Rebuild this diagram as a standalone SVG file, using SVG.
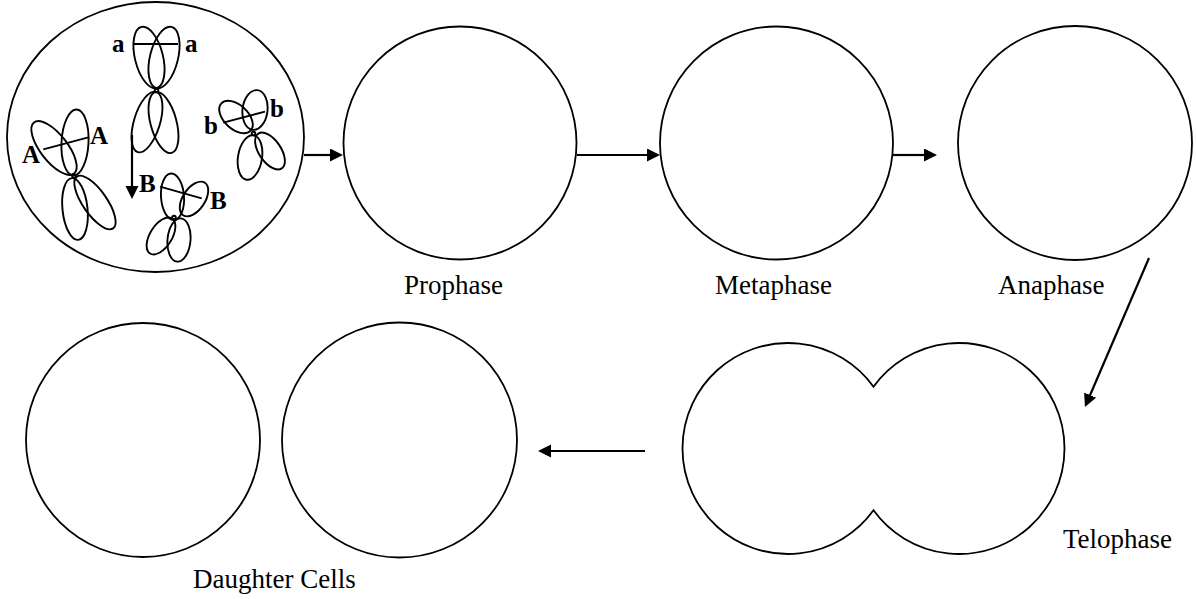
<svg xmlns="http://www.w3.org/2000/svg" width="1196" height="599" viewBox="0 0 1196 599">
  <style>
    .cell { fill: #ffffff; stroke: #000000; stroke-width: 1.8; }
    .chr { fill: none; stroke: #000000; stroke-width: 1.9; }
    .lbl { font-family: "Liberation Serif", "Times New Roman", serif; font-size: 27px; fill: #000000; }
    .gene { font-family: "Liberation Serif", "Times New Roman", serif; font-size: 25px; font-weight: bold; fill: #000000; }
    .conn { fill: none; stroke: #000000; stroke-width: 2.2; }
  </style>
  <defs>
    <marker id="arrow" markerUnits="userSpaceOnUse" markerWidth="14" markerHeight="14" viewBox="0 0 14 14" refX="1" refY="6.5" orient="auto">
      <path d="M0,0 L13,6.5 L0,13 Z" fill="#000000"/>
    </marker>
  </defs>
  <rect width="1196" height="599" fill="#ffffff"/>

  <g id="interphase-cell">
    <ellipse class="cell" cx="155.5" cy="137" rx="148.5" ry="135"/>
    <g id="chromosome-a">
      <ellipse class="chr" cx="149" cy="57.5" rx="14" ry="31.5" transform="rotate(-14 149 57.5)"/>
      <ellipse class="chr" cx="164" cy="57.5" rx="14" ry="31.5" transform="rotate(14 164 57.5)"/>
      <ellipse class="chr" cx="147" cy="122" rx="13" ry="31.5" transform="rotate(17 147 122)"/>
      <ellipse class="chr" cx="163.5" cy="122.5" rx="13" ry="31.5" transform="rotate(-15 163.5 122.5)"/>
      <circle class="chr" cx="156.5" cy="90.5" r="1.8"/>
      <line class="chr" x1="133" y1="44" x2="178" y2="44"/>
      <text class="gene" x="112" y="52">a</text>
      <text class="gene" x="185" y="52">a</text>
    </g>
    <g id="chromosome-A">
      <ellipse class="chr" cx="54" cy="148" rx="13.5" ry="32.5" transform="rotate(-38 54 148)"/>
      <ellipse class="chr" cx="75" cy="142.5" rx="13.5" ry="33" transform="rotate(3 75 142.5)"/>
      <ellipse class="chr" cx="75" cy="209" rx="12.5" ry="31" transform="rotate(-6 75 209)"/>
      <ellipse class="chr" cx="95" cy="202.5" rx="12" ry="31.6" transform="rotate(-35 95 202.5)"/>
      <circle class="chr" cx="74" cy="176" r="1.8"/>
      <line class="chr" x1="43.3" y1="149.3" x2="88.3" y2="137.3"/>
      <text class="gene" x="22" y="163">A</text>
      <text class="gene" x="90" y="143.5">A</text>
    </g>
    <g id="chromosome-b">
      <ellipse class="chr" cx="236" cy="117" rx="20" ry="12" transform="rotate(43 236 117)"/>
      <ellipse class="chr" cx="255" cy="110" rx="12.5" ry="20" transform="rotate(7 255 110)"/>
      <ellipse class="chr" cx="250" cy="157.5" rx="12" ry="22.5" transform="rotate(9 250 157.5)"/>
      <ellipse class="chr" cx="270" cy="151" rx="11" ry="21" transform="rotate(-34 270 151)"/>
      <circle class="chr" cx="253.5" cy="133.5" r="1.8"/>
      <line class="chr" x1="223.3" y1="122.7" x2="265" y2="111.7"/>
      <text class="gene" x="204" y="133.5">b</text>
      <text class="gene" x="270" y="117">b</text>
    </g>
    <g id="chromosome-B">
      <ellipse class="chr" cx="172.5" cy="196.7" rx="11.5" ry="23.3" transform="rotate(-4 172.5 196.7)"/>
      <ellipse class="chr" cx="194" cy="199" rx="11" ry="19.5" transform="rotate(34 194 199)"/>
      <ellipse class="chr" cx="161" cy="236" rx="11" ry="20.6" transform="rotate(32 161 236)"/>
      <ellipse class="chr" cx="179" cy="240" rx="11.5" ry="21.7" transform="rotate(5 179 240)"/>
      <circle class="chr" cx="174" cy="217.5" r="1.8"/>
      <line class="chr" x1="160" y1="186.7" x2="201.7" y2="198.3"/>
      <text class="gene" x="139" y="192">B</text>
      <text class="gene" x="210" y="208.5">B</text>
    </g>
    <line class="conn" x1="132" y1="135" x2="132" y2="187" marker-end="url(#arrow)"/>
  </g>

  <g id="prophase">
    <circle class="cell" cx="460" cy="143" r="116.5"/>
    <text class="lbl" x="404" y="294">Prophase</text>
  </g>

  <g id="metaphase">
    <circle class="cell" cx="776.5" cy="143" r="116.5"/>
    <text class="lbl" x="715" y="294">Metaphase</text>
  </g>

  <g id="anaphase">
    <circle class="cell" cx="1075" cy="143" r="117"/>
    <text class="lbl" x="998" y="294">Anaphase</text>
  </g>

  <g id="telophase">
    <path class="cell" d="M873.5,386.7 A105.5,105.5 0 1 0 873.5,510.3 A105.5,105.5 0 1 0 873.5,386.7 Z"/>
    <text class="lbl" x="1063" y="548">Telophase</text>
  </g>

  <g id="daughter-cells">
    <circle class="cell" cx="143" cy="440" r="117"/>
    <circle class="cell" cx="399.5" cy="440" r="117.5"/>
    <text class="lbl" x="193" y="588">Daughter Cells</text>
  </g>

  <g id="connectors">
    <line class="conn" x1="304" y1="155" x2="331" y2="155" marker-end="url(#arrow)"/>
    <line class="conn" x1="577" y1="155" x2="648" y2="155" marker-end="url(#arrow)"/>
    <line class="conn" x1="893" y1="155" x2="925" y2="155" marker-end="url(#arrow)"/>
    <line class="conn" x1="1149" y1="258" x2="1089.7" y2="396" marker-end="url(#arrow)"/>
    <line class="conn" x1="645" y1="451" x2="550" y2="451" marker-end="url(#arrow)"/>
  </g>
</svg>
